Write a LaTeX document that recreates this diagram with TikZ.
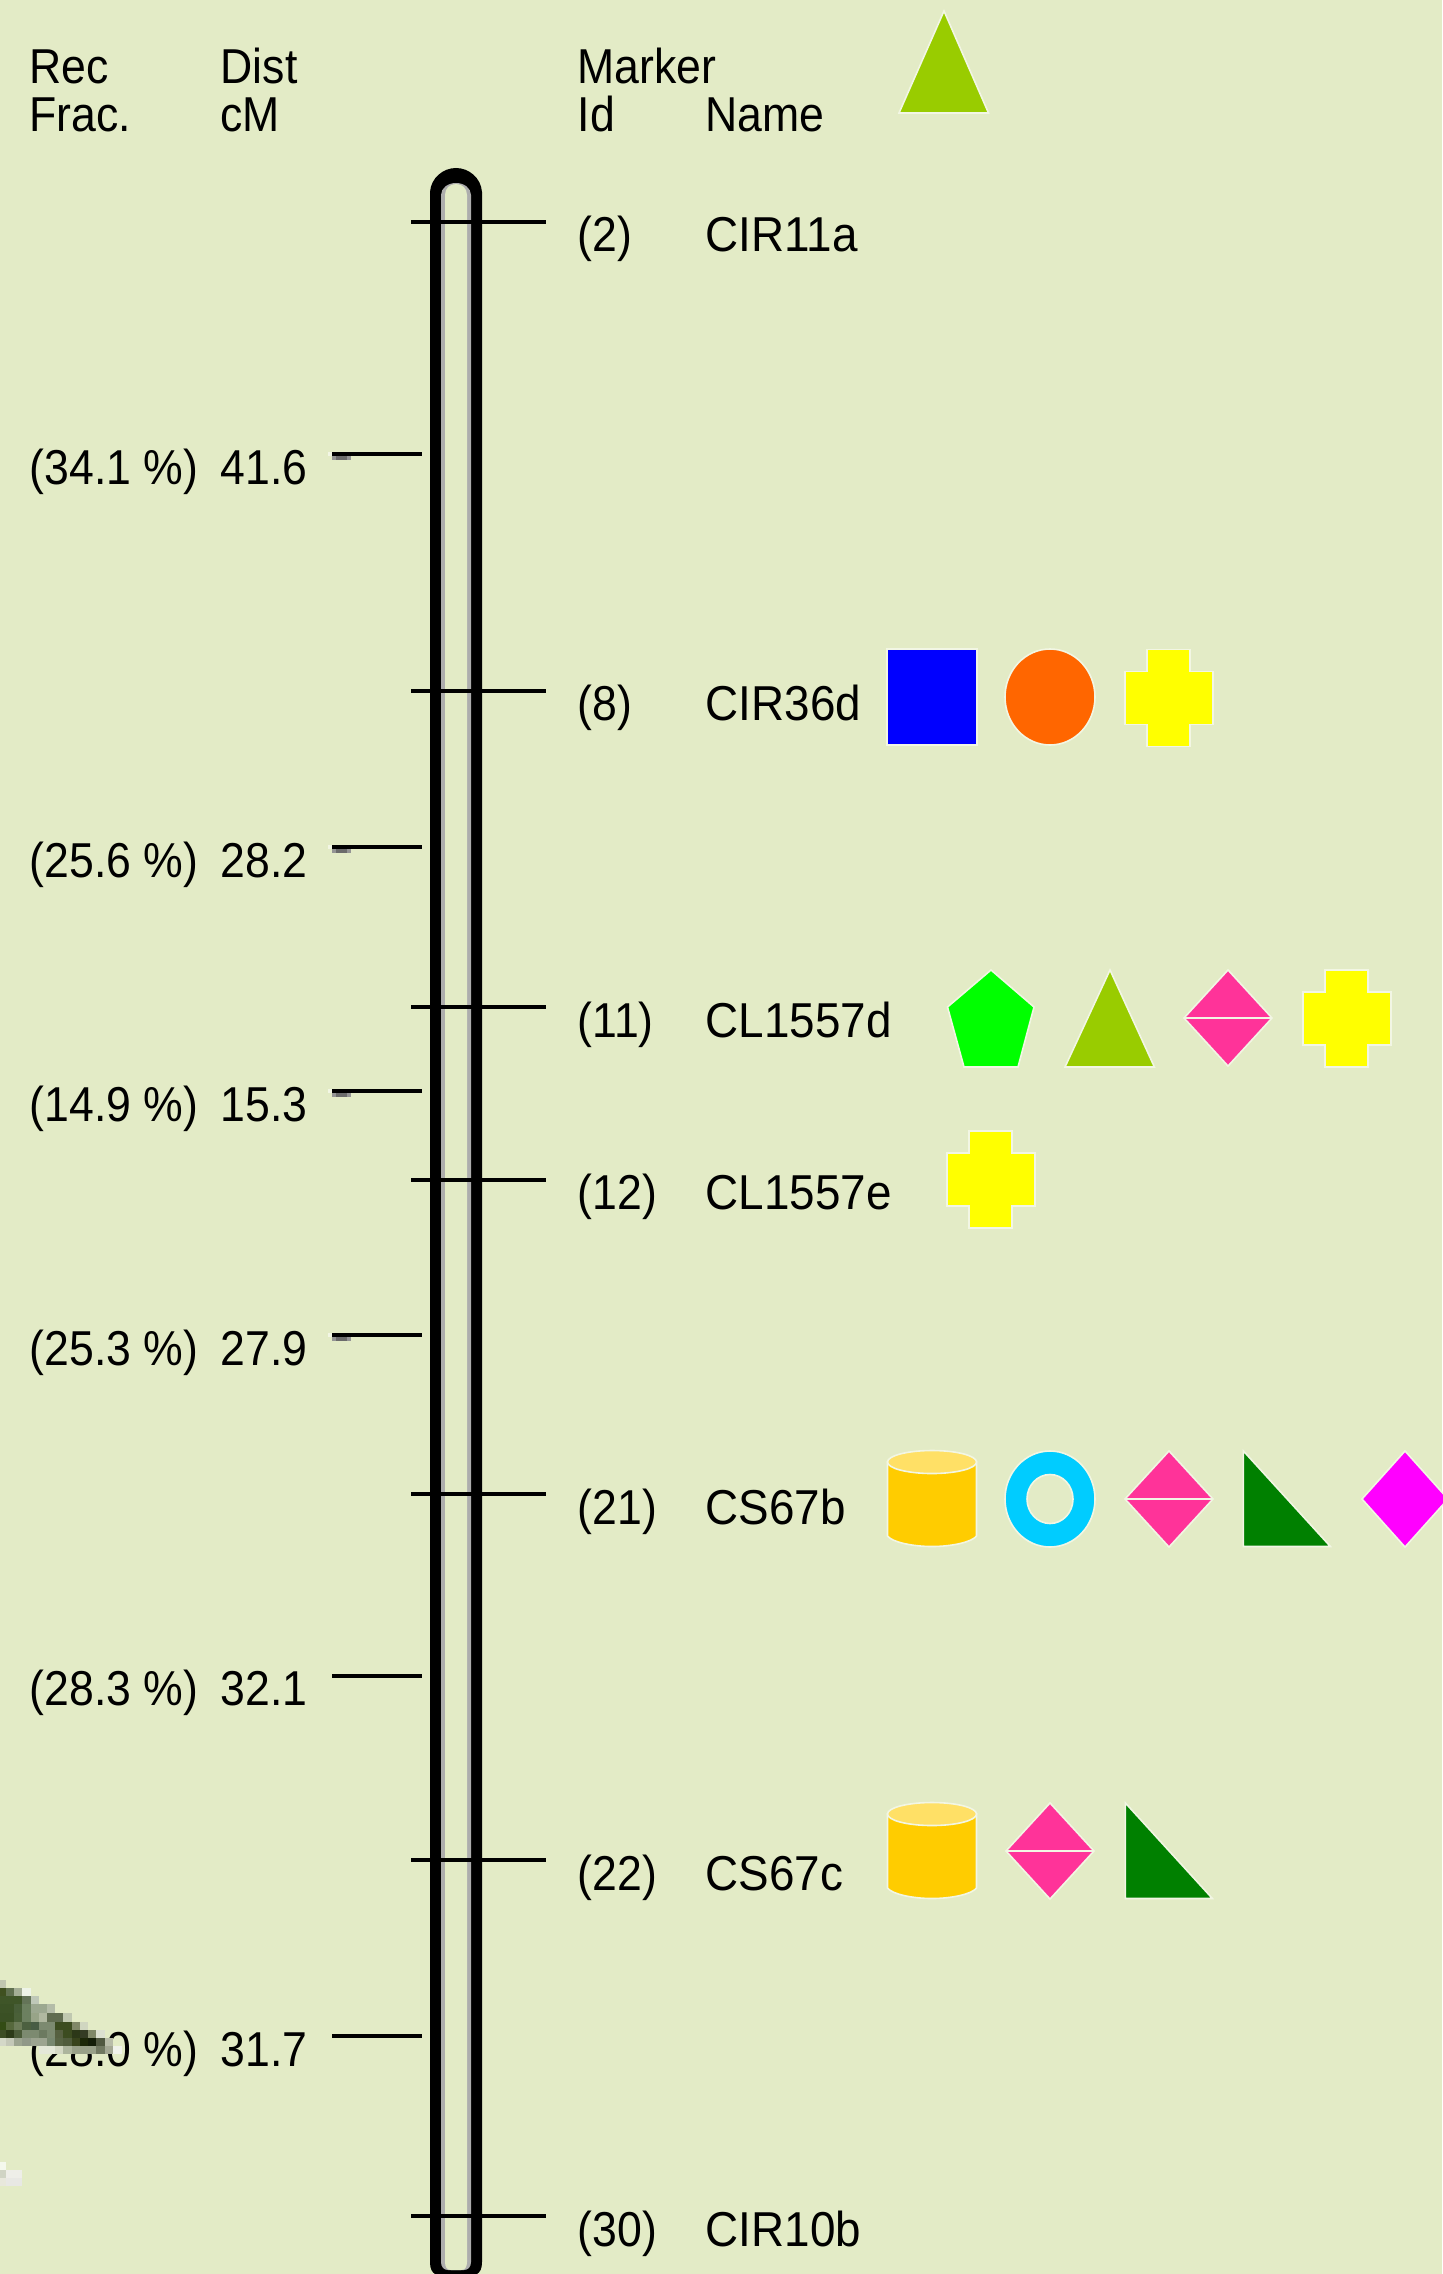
\documentclass[tikz,border=0pt]{standalone}
\usepackage{fontspec}
\setmainfont[FakeStretch=0.91]{Liberation Sans}
\newfontfamily\namefont[FakeStretch=0.935]{Liberation Sans}
\definecolor{pagebg}{HTML}{E3EBC6}
\definecolor{limetri}{HTML}{99CC00}
\definecolor{hotpink}{HTML}{FF3399}
\definecolor{pipeamber}{HTML}{FFCC00}
\definecolor{pipetop}{HTML}{FFE066}
\definecolor{rim}{HTML}{F2F6E4}
\definecolor{darkgrn}{HTML}{008000}
\definecolor{pureyellow}{HTML}{FFFF00}
\definecolor{puremagenta}{HTML}{FF00FF}
\definecolor{puregreen}{HTML}{00FF00}
\definecolor{pureblue}{HTML}{0000FF}
\tikzset{
  txt/.style={anchor=base west,inner sep=0pt,font=\fontsize{49}{49}\selectfont},
  nametxt/.style={txt,font=\fontsize{49}{49}\selectfont\namefont},
  tickline/.style={line width=4pt,black},
  sym/.style={draw=rim,line width=1.6pt,line join=miter},
  crossmark/.pic={\path[sym,fill=pureyellow] (-22,-48) -- (21,-48) -- (21,-26) -- (44,-26) -- (44,27) -- (21,27) -- (21,49) -- (-22,49) -- (-22,27) -- (-44,27) -- (-44,-26) -- (-22,-26) -- cycle;},
  pipemark/.pic={\path[sym,fill=pipeamber] (-44.5,-37) -- (-44.5,37) .. controls (-40,43) and (-20,47.5) .. (0,47.5) .. controls (20,47.5) and (40,43) .. (44.5,37) -- (44.5,-37) -- cycle;
    \path[sym,fill=pipetop] (0,-37) ellipse (44.5pt and 11.5pt);},
  pinkmark/.pic={\path[sym,fill=hotpink] (0,-48) -- (44,0) -- (0,48) -- (-44,0) -- cycle;
    \draw[rim,line width=1.6pt] (-44,0) -- (44,0);},
  slopemark/.pic={\path[sym,fill=darkgrn] (0,-48) -- (0,47.5) -- (87,47.5) -- cycle;},
}
\begin{document}
\begin{tikzpicture}[x=1pt,y=-1pt]
\useasboundingbox (0,0) rectangle (1442,2274);
\fill[pagebg] (0,0) rectangle (1442,2274);

% linkage bar
\fill[black] (430,2262) -- (430,192) .. controls (431,178) and (443,168) .. (456,168) .. controls (469,168) and (481,178) .. (482,192) -- (482,2262) .. controls (482,2269) and (480,2272) .. (477,2274) -- (435,2274) .. controls (432,2272) and (430,2269) .. (430,2262) -- cycle;
\fill[black!32] (441,2262) -- (441,195) .. controls (441,188) and (448,183) .. (456,183) .. controls (464,183) and (471,188) .. (471,195) -- (471,2262) .. controls (471,2267) and (468,2270) .. (464,2270) -- (448,2270) .. controls (444,2270) and (441,2267) .. (441,2262) -- cycle;
\fill[pagebg] (445,2262) -- (445,195) .. controls (445,188) and (450,184) .. (456,184) .. controls (462,184) and (467,188) .. (467,195) -- (467,2262) .. controls (467,2267) and (465,2270) .. (461,2270) -- (451,2270) .. controls (447,2270) and (445,2267) .. (445,2262) -- cycle;

% header
\node[txt] (rec) at (29.5,84) {Rec};
\node[txt] (frac) at (29.5,132) {Frac.};
\node[txt] (dist) at (220.5,84) {Dist};
\node[txt] (cm) at (220.5,132) {cM};
\node[txt] (marker) at (577.5,84) {Marker};
\node[txt] (id) at (577.5,132) {Id};
\node[txt] (name) at (705.5,132) {Name};

% markers on the bar
\foreach \y/\mid/\mname in {222/(2)/CIR11a,690.5/(8)/CIR36d,1007/(11)/CL1557d,1179.5/(12)/CL1557e,1494/(21)/CS67b,1860/(22)/CS67c,2216/(30)/CIR10b}{
  \draw[tickline] (411,\y) -- (546,\y);
  \node[txt] at (577.5,\y+30) {\mid};
  \node[nametxt] at (705.5,\y+30) {\mname};
}

% distances between markers
\foreach \y/\rfrac/\cmval in {454/(34.1 \%)/41.6,847/(25.6 \%)/28.2,1091/(14.9 \%)/15.3,1335/(25.3 \%)/27.9,1675.5/(28.3 \%)/32.1,2036/(28.0 \%)/31.7}{
  \draw[tickline] (332,\y) -- (422,\y);
  \node[txt] at (29.5,\y+30) {\rfrac};
  \node[txt] at (220.5,\y+30) {\cmval};
}
\foreach \y in {454,847,1091,1335}{
  \fill[black!42] (332,\y+2) rectangle (351,\y+6);
  \fill[black!58] (336,\y+2) rectangle (347,\y+6);
  \fill[rim] (328,\y-2) rectangle (332,\y+2);
}

% trait symbols
\path[sym,fill=limetri] (944,11) -- (988.5,113) -- (899,113) -- cycle;
\path[sym,fill=pureblue] (887,649) rectangle (977,745);
\path[sym,fill={rgb,255:red,255;green,102;blue,0}] (1050,697) ellipse (45pt and 48pt);
\pic at (1169,697.5) {crossmark};
\path[sym,fill=puregreen] (991,970) -- (1034,1007) -- (1018,1067) -- (964,1067) -- (947.5,1007) -- cycle;
\path[sym,fill=limetri] (1110,970) -- (1154.4,1067) -- (1065,1067) -- cycle;
\pic at (1228,1018) {pinkmark};
\pic at (1347,1018) {crossmark};
\pic at (991,1179) {crossmark};
\pic at (932,1499) {pipemark};
\path[sym,fill={rgb,255:red,0;green,204;blue,255}] (1050,1499) ellipse (45pt and 48pt);
\path[sym,fill=pagebg] (1050,1499) ellipse (23pt and 24.5pt);
\pic at (1169,1499) {pinkmark};
\pic at (1243.4,1499) {slopemark};
\path[sym,fill=puremagenta] (1405,1451) -- (1448,1499) -- (1405,1547) -- (1362,1499) -- cycle;
\pic at (932,1851) {pipemark};
\pic at (1050,1851) {pinkmark};
\pic at (1125.4,1851) {slopemark};

% stray picture piece at the edge
\foreach \xa/\ya/\xb/\yb/\pix in {0/1980/6/1988/C0C6B0,
  0/1988/6/1996/3F5020,6/1988/14/1996/607050,14/1988/22/1996/A4AE96,22/1988/31/1996/EEF4E8,
  0/1996/22/2004/3F5528,22/1996/31/2004/647458,31/1996/39/2004/BFC8B8,
  0/2004/14/2013/3C5226,14/2004/22/2013/485E38,22/2004/31/2013/6C8060,31/2004/47/2013/9CA890,47/2004/55/2013/B4BCA8,
  0/2013/14/2022/3A5024,14/2013/22/2022/4A6038,22/2013/31/2022/6C8060,31/2013/39/2022/98A488,39/2013/47/2022/B0B8A0,47/2013/63/2022/606C50,63/2013/72/2022/C0C8B0,
  0/2022/6/2030/334C14,6/2022/14/2030/56683C,14/2022/22/2030/6C7C58,22/2022/31/2030/4C6040,31/2022/39/2030/485C44,39/2022/55/2030/7C8A70,55/2022/72/2030/3C4C20,72/2022/80/2030/808868,80/2022/88/2030/D0D6C0,
  0/2030/6/2038/3C4C24,6/2030/14/2038/2C3A18,14/2030/22/2038/4A5A38,22/2030/39/2038/7C8A70,39/2030/47/2038/6C7A60,47/2030/55/2038/7C8A70,55/2030/63/2038/566040,63/2030/72/2038/3C4C20,72/2030/80/2038/2C3818,80/2030/88/2038/343C24,88/2030/96/2038/808868,96/2030/105/2038/DCE0D0,
  0/2038/6/2046/D4D8C8,6/2038/14/2046/C4C8B8,14/2038/22/2046/9CA490,22/2038/31/2046/909888,31/2038/47/2046/9CA490,47/2038/55/2046/788870,55/2038/63/2046/586444,63/2038/72/2046/505C3C,72/2038/80/2046/38441C,80/2038/88/2046/1C2808,88/2038/96/2046/141E08,96/2038/105/2046/505840,105/2038/113/2046/B8BCA8,
  39/2046/55/2054/E4E8D8,55/2046/63/2054/D4D8C4,63/2046/72/2054/ACB49C,72/2046/96/2054/98A088,96/2046/105/2054/707860,105/2046/113/2054/A4A894,113/2046/122/2054/F0F2EA,
  0/2162/6/2170/F4F8EC,0/2170/6/2178/D0D4C4,6/2170/22/2178/EEEEE8,0/2178/6/2186/E8E8DC,6/2178/22/2186/E8E8E4}{
  \definecolor{pixcol}{HTML}{\pix}
  \fill[pixcol] (\xa,\ya) rectangle (\xb,\yb);
}
\end{tikzpicture}
\end{document}
